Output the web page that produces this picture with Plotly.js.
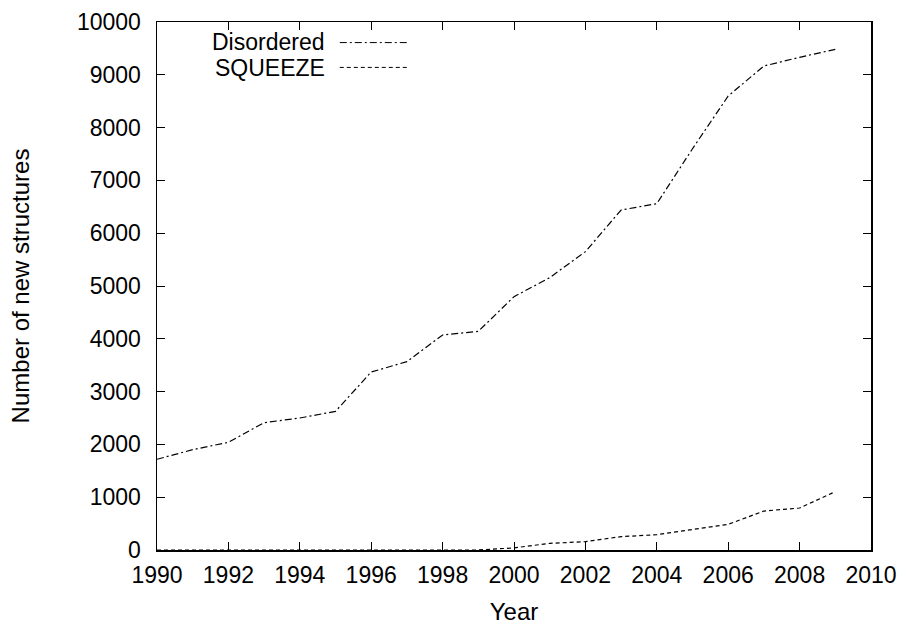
<!DOCTYPE html>
<html>
<head>
<meta charset="utf-8">
<script src="https://cdn.plot.ly/plotly-3.0.1.min.js"></script>
<style>html,body{margin:0;padding:0;background:#fff;}#chart{width:908px;height:626px;}</style>
</head>
<body>
<div id="chart"></div>
<script>
const years = [1990,1991,1992,1993,1994,1995,1996,1997,1998,1999,2000,2001,2002,2003,2004,2005,2006,2007,2008,2009];
const disordered = [1718,1900,2040,2412,2500,2626,3371,3567,4072,4141,4798,5158,5650,6439,6559,7600,8598,9167,9331,9483];
const squeeze = [0,0,0,0,0,0,0,0,0,0,40,126,158,253,290,391,486,738,795,1105];
const seriesNames = ["Disordered","SQUEEZE"];
const xTicks = [1990,1992,1994,1996,1998,2000,2002,2004,2006,2008,2010];
const yTicks = [0,1000,2000,3000,4000,5000,6000,7000,8000,9000,10000];

const dashDD = "7px,3px,2px,3px";
const dashSQ = "4px,3px";
const font = {family: "Liberation Sans, Arial, sans-serif", size: 23, color: "#000"};
const bigFont = {family: "Liberation Sans, Arial, sans-serif", size: 24, color: "#000"};
const legFont = {family: "Liberation Sans, Arial, sans-serif", size: 23, color: "#000"};

const traces = [
  {x: years, y: disordered, name: seriesNames[0], mode: "lines", line: {color: "#000", width: 1.2, dash: dashDD}},
  {x: years, y: squeeze, name: seriesNames[1], mode: "lines", line: {color: "#000", width: 1.2, dash: dashSQ}}
];

const axisCommon = {
  showgrid: false, zeroline: false, showline: true, linecolor: "#000", linewidth: 1.5,
  mirror: "allticks", ticks: "inside", ticklen: 8, tickwidth: 1, tickcolor: "#000",
  tickfont: font
};

const layout = {
  width: 908, height: 626,
  margin: {l: 157, r: 37, t: 22, b: 76},
  paper_bgcolor: "#fff", plot_bgcolor: "#fff",
  showlegend: false,
  font: font,
  xaxis: Object.assign({}, axisCommon, {range: [1990, 2010], tickvals: xTicks, ticktext: xTicks.map(String),
    ticklabelstandoff: 4, automargin: false,
    title: {text: "Year", font: bigFont, standoff: 16}}),
  yaxis: Object.assign({}, axisCommon, {range: [0, 10000], tickvals: yTicks, ticktext: yTicks.map(String),
    ticklabelstandoff: 10, automargin: false,
    title: {text: "Number of new structures", font: bigFont, standoff: 40}}),
  annotations: [
    {xref: "paper", yref: "paper", x: 0.236, y: 0.963, xanchor: "right", yanchor: "middle", text: seriesNames[0], showarrow: false, font: legFont, borderpad: 0},
    {xref: "paper", yref: "paper", x: 0.236, y: 0.912, xanchor: "right", yanchor: "middle", text: seriesNames[1], showarrow: false, font: legFont, borderpad: 0}
  ],
  shapes: [
    {type: "line", xref: "paper", yref: "paper", x0: 0.256, x1: 0.352, y0: 0.961, y1: 0.961, line: {color: "#000", width: 1, dash: dashDD}},
    {type: "line", xref: "paper", yref: "paper", x0: 0.256, x1: 0.352, y0: 0.914, y1: 0.914, line: {color: "#000", width: 1, dash: dashSQ}}
  ]
};

Plotly.newPlot("chart", traces, layout, {displayModeBar: false, staticPlot: true});
</script>
</body>
</html>
